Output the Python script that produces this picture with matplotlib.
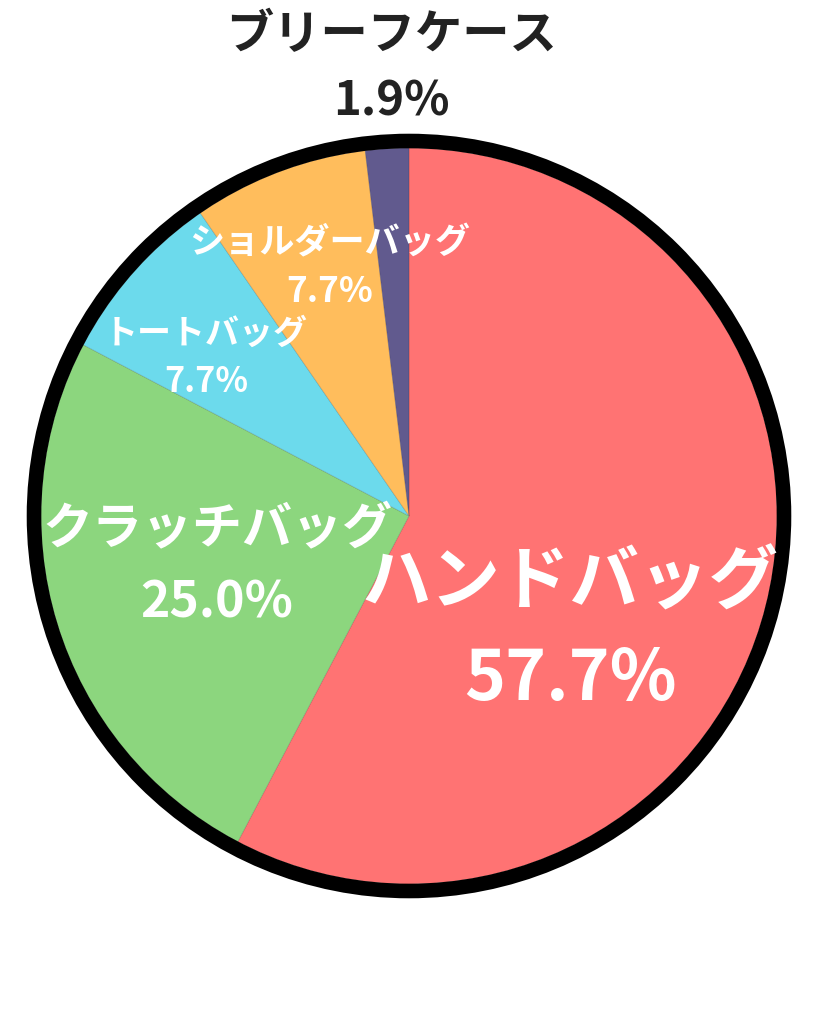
import matplotlib.pyplot as plt
from matplotlib.patches import Circle

plt.rcParams['font.family'] = ['Noto Sans CJK JP', 'DejaVu Sans']

labels = ['ハンドバッグ', 'クラッチバッグ', 'トートバッグ', 'ショルダーバッグ', 'ブリーフケース']
shares = [57.7, 25.0, 7.7, 7.7, 1.9]
colors = ['#FF7373', '#8CD67E', '#6CDAEC', '#FFBD5C', '#615A8E']

# label layout: (x, y of name, y of percent, font size, colour) in pixel coords
W, H = 819, 1024
cx, cy, R = 409, 516, 368
layout = [
    (570, 583, 680, 50, 'white'),
    (217, 530, 603, 36, 'white'),
    (206, 333, 382, 24.5, 'white'),
    (330, 243, 292, 25.3, 'white'),
    (391, 35, 101, 34, '#222222'),
]

fig = plt.figure(figsize=(W / 100, H / 100), dpi=100)
ax = fig.add_axes([(cx - R) / W, (H - cy - R) / H, 2 * R / W, 2 * R / H])

ax.pie(shares, colors=colors, startangle=90, counterclock=False, radius=1,
       wedgeprops=dict(edgecolor=(0, 0, 0, 0.15), linewidth=0.6))
ax.add_patch(Circle((0, 0), 1 + 7 / R, fill=False, edgecolor='black',
                    linewidth=10.5, clip_on=False))
ax.set_xlim(-1, 1)
ax.set_ylim(-1, 1)
ax.set_aspect('equal')
ax.axis('off')

def to_data(px, py):
    return (px - cx) / R, (cy - py) / R

for name, val, (px, py1, py2, fs, col) in zip(labels, shares, layout):
    x, y1 = to_data(px, py1)
    _, y2 = to_data(px, py2)
    ax.text(x, y1, name, ha='center', va='center', fontsize=fs,
            fontweight='bold', color=col, clip_on=False)
    ax.text(x, y2, f'{val:.1f}%', ha='center', va='center', fontsize=fs,
            fontweight='bold', color=col, clip_on=False)

fig.savefig('out.png', dpi=100)
